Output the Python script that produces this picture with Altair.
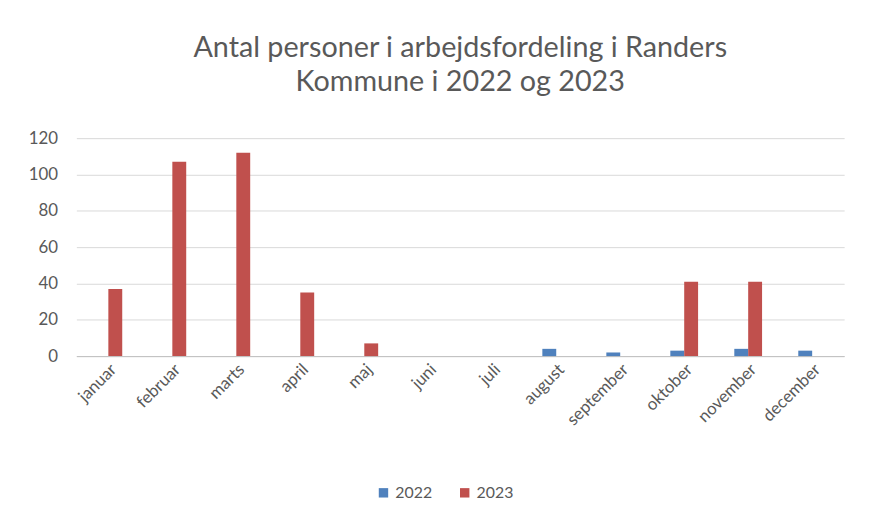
import altair as alt
import pandas as pd

months = ["januar", "februar", "marts", "april", "maj", "juni", "juli",
          "august", "september", "oktober", "november", "december"]
values_2022 = [None, None, None, None, None, None, None, 4, 2, 3, 4, 3]
values_2023 = [37, 107, 112, 35, 7, None, None, None, None, 41, 41, None]
years = ["2022", "2023"]
title_lines = ["Antal personer i arbejdsfordeling i Randers", "Kommune i 2022 og 2023"]

rows = []
for m, a, b in zip(months, values_2022, values_2023):
    if a is not None:
        rows.append({"måned": m, "år": "2022", "antal": a})
    if b is not None:
        rows.append({"måned": m, "år": "2023", "antal": b})
df = pd.DataFrame(rows)

grey = "#595959"
font = "Lato"

chart = alt.Chart(df).mark_bar().encode(
    x=alt.X("måned:N", sort=months,
            scale=alt.Scale(domain=months, paddingInner=0.566, paddingOuter=0.283),
            axis=alt.Axis(title=None, labelAngle=-45, labelFontSize=17, labelColor=grey,
                          labelFont=font, ticks=False, domainColor="#bfbfbf",
                          labelPadding=5)),
    xOffset=alt.XOffset("år:N", sort=years),
    y=alt.Y("antal:Q", scale=alt.Scale(domain=[0, 120]),
            axis=alt.Axis(title=None, values=[0, 20, 40, 60, 80, 100, 120],
                          labelFontSize=17, labelColor=grey, labelFont=font,
                          ticks=False, domain=False, gridColor="#d9d9d9",
                          labelPadding=19)),
    color=alt.Color("år:N", sort=years,
                    scale=alt.Scale(domain=years, range=["#4f81bd", "#c0504d"]),
                    legend=alt.Legend(title=None, orient="none", direction="horizontal",
                                      legendX=302, legendY=350, symbolType="square",
                                      symbolSize=90, labelFontSize=16, labelColor=grey,
                                      labelFont=font, columnPadding=24, symbolStrokeWidth=0)),
).properties(
    width=775, height=220,
    title=alt.TitleParams(text=title_lines, fontSize=29, font=font, color=grey,
                          fontWeight="normal", anchor="middle", offset=33, lineHeight=34),
    autosize=alt.AutoSizeParams(type="none"),
    padding={"left": 69, "top": 129, "right": 17, "bottom": 157},
).configure(background="white", view=alt.ViewConfig(stroke=None))

chart.save("out.html", embed_options={"renderer": "svg", "actions": False})
